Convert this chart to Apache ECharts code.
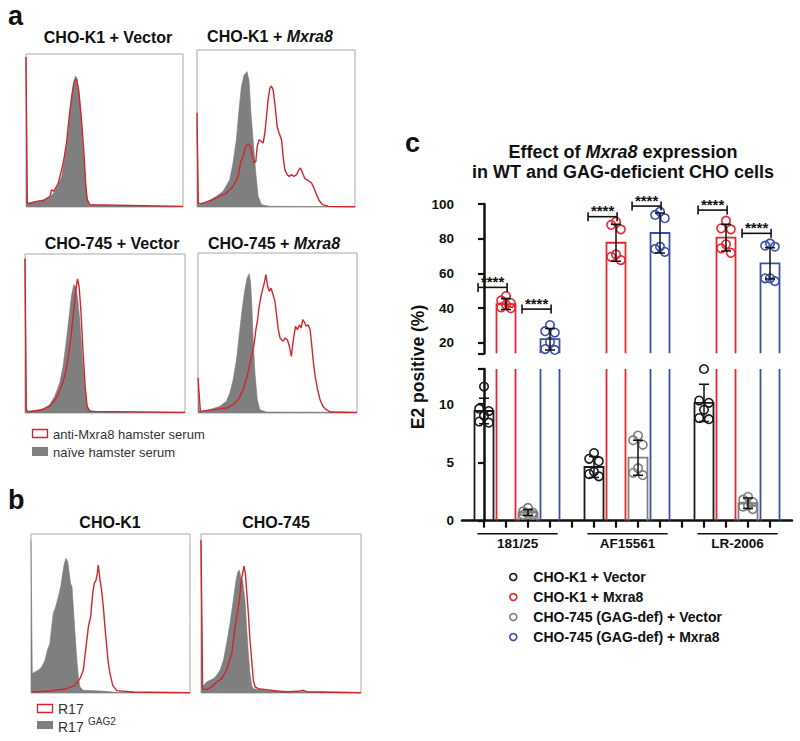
<!DOCTYPE html>
<html><head><meta charset="utf-8">
<script src="https://cdn.jsdelivr.net/npm/echarts@6/dist/echarts.min.js"></script>
<style>html,body{margin:0;padding:0;background:#fff}#chart{width:800px;height:741px}</style>
</head><body><div id="chart"></div>
<script>
// ---------- Panel a / b : flow histograms  [fluorescence (% of axis), count (% of axis height)] ----------
const aK1VectorNaive = [[0,97],[0.8,3],[1.5,2.6],[6.8,3.7],[11.0,4.8],[15.3,6.5],[18.4,10.2],[20.6,14.6],[22.7,20],[24.8,33],[26.9,48],[28.4,65.7],[30.1,78.7],[31.4,85.7],[32.6,84],[33.9,74],[35.2,57],[36.4,37],[37.7,18],[39.0,4.8],[40.7,1.5],[47,0.9],[100,0.4]];
const aK1VectorImmune = [[0,98],[0.8,3],[1.5,2.2],[6.8,3.7],[11.0,4.1],[15.3,7.0],[16.3,11.3],[17.8,10.2],[20.6,15.7],[23.7,28.7],[25.8,41.7],[28.0,63.5],[29.7,76.5],[30.9,83],[32.2,83],[33.5,76.5],[35.2,59.1],[36.9,35.2],[38.1,13.5],[39.0,4.8],[40.7,1.5],[100,0.4]];
const aK1Mxra8Naive = [[0,50],[0.8,2],[1.7,1.5],[5.9,3],[12.3,6.8],[16.5,10],[20.7,17.4],[22.8,28],[24.9,42.8],[26.6,61.9],[28.1,76.7],[29.8,84.1],[31.7,86.2],[33.0,79.9],[34.0,61.9],[35.5,42.8],[37.2,21.6],[38.7,6.8],[40.8,1.5],[46.1,0.4],[100,0.2]];
const aK1Mxra8Immune = [[0,60],[0.8,2.5],[2.7,2.1],[10.1,4.7],[18.6,8.9],[22.8,13.1],[26.0,19.5],[27.5,28],[29.2,32.2],[30.9,38.6],[32.3,40.3],[33.8,38.6],[35.1,32.2],[36.2,28],[37.2,29],[38.1,38.6],[39.3,42.8],[40.8,41.7],[41.9,40.7],[42.9,47],[44.0,57.6],[45.0,68.2],[46.1,75.6],[47.1,77.1],[48.2,74.6],[49.5,64],[50.7,51.3],[52.0,47],[53.5,42.8],[54.5,32.2],[55.6,23.7],[57.1,20.6],[58.4,19.5],[59.8,20.6],[61.3,19.5],[63.0,20.6],[64.5,23.7],[65.5,24.8],[66.8,21.6],[68.3,18],[70.4,16.9],[72.5,15.3],[74.0,12.1],[75.7,7.8],[77.4,4],[79.5,1.5],[83.1,0.4],[100,0.2]];
const a745VectorNaive = [[0,97],[0.8,2],[1.9,1.0],[7.1,1.7],[11.3,2.5],[15.4,5.2],[18.6,10.5],[21.7,18.9],[23.8,29.4],[25.9,46.1],[27.6,60.8],[29.0,73.4],[30.5,80.7],[31.7,79.7],[33.0,71.3],[34.2,58.7],[35.9,33.5],[37.6,14.7],[38.8,4.2],[40.5,1.5],[48.9,0.6],[100,0.4]];
const a745VectorImmune = [[0,97],[0.8,2],[1.9,0.8],[9.2,1.7],[15.4,4.2],[19.6,9.4],[22.8,16.8],[24.8,23.1],[26.9,33.5],[29.0,50.3],[30.5,65],[31.7,76.5],[32.8,84.3],[33.8,79.7],[34.9,65],[36.3,37.7],[37.6,16.8],[38.8,4.2],[40.5,1.0],[100,0.4]];
const a745Mxra8Naive = [[0,15],[0.8,1.5],[2.1,1.0],[7.4,2.1],[13.7,4.2],[17.9,7.3],[20.0,12.5],[22.1,20.8],[24.2,33.3],[26.3,52.1],[28.0,66.7],[29.5,77.1],[30.9,84.4],[32.2,87.1],[33.1,81.3],[33.9,66.7],[34.7,45.8],[35.8,25],[37.3,8.3],[38.9,2.1],[43.2,0.6],[100,0.4]];
const a745Mxra8Immune = [[0,22],[1.5,1.0],[9.5,2.1],[17.9,3.1],[22.1,5.2],[25.3,8.3],[28.4,14.6],[30.9,22.9],[33.1,33.3],[34.3,38.5],[35.4,43.8],[36.4,52.1],[37.5,58.3],[38.5,66.7],[39.6,72.9],[40.6,77.1],[41.7,81.3],[42.7,86.5],[43.8,79.2],[44.8,76],[45.9,78.1],[46.9,75],[48.4,69.8],[49.5,60.4],[50.5,52.1],[51.6,46.9],[52.6,45.8],[53.7,44.8],[54.7,46.9],[56.2,45.8],[57.5,41.7],[58.7,35.4],[60.0,45.8],[61.3,54.2],[62.5,52.1],[63.8,55.2],[64.8,53.1],[65.9,58.3],[67.2,56.3],[68.0,54.2],[69.3,55.2],[70.5,52.1],[71.6,41.7],[72.6,31.3],[73.7,22.9],[75.2,14.6],[76.8,8.3],[78.5,4.2],[80.6,2.1],[83.2,0.6],[100,0.4]];
const bK1Gag2 = [[0,96],[0.8,12.2],[2.5,13.2],[4.6,14.3],[6.7,16.4],[8.8,20.6],[10.3,26.9],[11.9,31.1],[13.0,41.6],[14.0,50],[15.5,54.2],[17.2,60.5],[18.7,66.8],[19.9,75.2],[21.0,81.5],[22.0,84.7],[23.1,82.6],[24.1,75.2],[24.9,68.9],[25.8,66.8],[26.6,54.2],[27.7,37.4],[28.7,22.7],[29.8,10.1],[30.8,3.8],[32.9,1.7],[43.4,1.3],[53.9,0.4],[100,0.2]];
const bK1R17 = [[0.8,0.6],[11.9,1.3],[22.4,2.7],[27.7,4.8],[30.8,9.0],[32.9,14.3],[34.6,29],[36.1,41.6],[37.5,47.9],[38.8,62.6],[39.8,68.9],[40.9,71],[41.7,75.2],[42.3,80.5],[43.4,71],[44.4,64.7],[45.5,54.2],[46.5,41.6],[47.6,29.4],[48.6,18.9],[49.7,12.2],[51.4,4.8],[53.9,1.5],[64.4,0.6],[100,0.2]];
const b745Gag2 = [[0,96],[0.8,4],[1.0,3.8],[3.5,6.9],[5.6,8.0],[7.7,9.0],[9.8,11.1],[11.9,14.3],[14.0,20.6],[16.0,31.1],[18.1,43.7],[20.2,58.4],[21.9,71],[23.1,76.3],[24.0,77.3],[24.8,73.1],[26.0,71],[27.5,58.4],[28.5,41.6],[29.6,24.8],[30.6,12.2],[31.7,4.8],[32.7,2.7],[36.9,2.1],[45.2,1.3],[61.9,0.8],[100,0.2]];
const b745R17 = [[0,96],[1.0,2.7],[3.5,2.1],[6.7,3.8],[9.8,6.9],[12.9,9.0],[16.0,14.3],[19.2,24.8],[21.3,41.6],[22.7,50],[24.0,58.4],[25.2,71],[26.0,75.2],[26.9,79.8],[27.7,75.2],[28.5,64.7],[29.6,50],[30.6,33.2],[31.7,20.6],[32.7,8.0],[33.8,3.8],[35.8,2.7],[41.0,2.1],[47.3,1.3],[53.5,0.6],[61.9,1.3],[63.9,1.7],[66.0,0.8],[100,0.2]];

// ---------- Panel c : E2 positive (%) ----------
const groups = ['181/25', 'AF15561', 'LR-2006'];
const conditions = ['CHO-K1 + Vector', 'CHO-K1 + Mxra8', 'CHO-745 (GAG-def) + Vector', 'CHO-745 (GAG-def) + Mxra8'];
const k1VectorDots   = [[11.5, 9.6, 9.4, 9.0, 8.5, 8.4], [5.8, 5.3, 5.1, 4.2, 4.0, 3.8], [13.0, 10.3, 10.1, 9.5, 8.8, 8.7]];
const k1Mxra8Dots    = [[47.0, 44.5, 43.0, 42.0, 40.5, 40.0], [89.8, 88.0, 85.4, 71.0, 69.6, 67.7], [90.4, 86.0, 85.4, 76.8, 74.5, 71.9]];
const c745VectorDots = [[1.1, 0.8, 0.7, 0.6, 0.5, 0.5], [7.3, 6.9, 6.5, 4.5, 4.1, 3.9], [2.05, 1.8, 1.6, 1.3, 1.2, 1.0]];
const c745Mxra8Dots  = [[30.3, 26.8, 26.0, 20.6, 16.5, 16.0], [95.6, 93.7, 91.8, 75.4, 74.1, 72.5], [77.3, 76.0, 75.4, 57.2, 57.2, 55.6]];
const k1VectorMean = [9.4, 4.6, 10.1],   k1VectorSD = [1.1, 0.9, 1.6];
const k1Mxra8Mean = [42.4, 77.7, 80.6],  k1Mxra8SD = [3.2, 10.6, 7.7];
const c745VectorMean = [0.7, 5.4, 1.5],  c745VectorSD = [0.25, 1.5, 0.45];
const c745Mxra8Mean = [22.2, 83.3, 65.8], c745Mxra8SD = [6.2, 11.5, 9.0];
const bracketHeights = [[52.0, 39.5], [92.7, 98.8], [96.5, 83.1]];   // y of "****" brackets (K1 pair, 745 pair)
const significance = '****';
const upperTicks = [20, 40, 60, 80, 100];
const lowerTicks = [0, 5, 10];

// ---------- build ----------
const FONT = "'Liberation Sans', Arial, Helvetica, sans-serif";
const RED = '#d2252d';
const condColors = ['#1a1a1a', '#e8262d', '#808080', '#3c50a8'];
const dotJitter = [0, -0.22, 0.22, 0, -0.22, 0.22];
const allDots = [k1VectorDots, k1Mxra8Dots, c745VectorDots, c745Mxra8Dots];
const allMeans = [k1VectorMean, k1Mxra8Mean, c745VectorMean, c745Mxra8Mean];
const allSDs = [k1VectorSD, k1Mxra8SD, c745VectorSD, c745Mxra8SD];
const slot = (g, c) => g * 5 + c;

const histBoxes = [
  {left: 26, top: 54, width: 157, height: 153, naive: aK1VectorNaive, immune: aK1VectorImmune},
  {left: 197, top: 50, width: 158, height: 157, naive: aK1Mxra8Naive, immune: aK1Mxra8Immune},
  {left: 25, top: 254, width: 160, height: 159, naive: a745VectorNaive, immune: a745VectorImmune},
  {left: 198, top: 253, width: 159, height: 160, naive: a745Mxra8Naive, immune: a745Mxra8Immune},
  {left: 31, top: 534, width: 159, height: 159, naive: bK1Gag2, immune: bK1R17},
  {left: 201, top: 534, width: 160, height: 159, naive: b745Gag2, immune: b745R17}
];

const grid = [], xAxis = [], yAxis = [], series = [];
histBoxes.forEach((b, i) => {
  grid.push({left: b.left, top: b.top, width: b.width, height: b.height, show: true, borderColor: '#a8a8a8', borderWidth: 1, backgroundColor: 'rgba(0,0,0,0)'});
  xAxis.push({type: 'value', gridIndex: i, min: 0, max: 100, show: false});
  yAxis.push({type: 'value', gridIndex: i, min: 0, max: 100, show: false});
  series.push({type: 'line', xAxisIndex: i, yAxisIndex: i, data: b.naive, symbol: 'none', silent: true, z: 2,
    lineStyle: {width: 0.6, color: '#7b7b7b'}, areaStyle: {color: '#7f7f7f', opacity: 1}});
  series.push({type: 'line', xAxisIndex: i, yAxisIndex: i, data: b.immune, symbol: 'none', silent: true, z: 3,
    lineStyle: {width: 1.4, color: RED}});
});

// panel c grids: 6 = upper (14-100), 7 = lower (0-13)
const UP = 6, LO = 7;
const upperRange = [14, 100], lowerRange = [0, 13];
grid.push({left: 462, top: 204, width: 330, height: 149.4});
grid.push({left: 462, top: 369, width: 330, height: 151.7});
const slotTicks = Array.from({length: 14}, (_, i) => i);
xAxis.push({type: 'value', gridIndex: UP, min: -1, max: 14, show: false});
xAxis.push({type: 'value', gridIndex: LO, min: -1, max: 14,
  axisLine: {lineStyle: {color: '#111', width: 2.5}},
  axisTick: {show: true, customValues: slotTicks, length: 7, lineStyle: {color: '#111', width: 2.2}},
  axisLabel: {show: false}, splitLine: {show: false}});
const yAxisStyle = (gi, range, ticks) => ({type: 'value', gridIndex: gi, min: range[0], max: range[1],
  axisLine: {show: true, lineStyle: {color: '#111', width: 2.5}},
  axisTick: {show: true, customValues: (gi === UP ? [range[0]] : [range[1]]).concat(ticks), length: 6, lineStyle: {color: '#111', width: 2.2}},
  axisLabel: {customValues: ticks, color: '#111', fontSize: 13.5, fontWeight: 'bold', fontFamily: FONT, margin: 8},
  splitLine: {show: false}});
yAxis.push(yAxisStyle(UP, upperRange, upperTicks));
yAxis.push(yAxisStyle(LO, lowerRange, lowerTicks));

const barData = [], errData = [];
conditions.forEach((n, c) => groups.forEach((g, gi) => {
  barData.push([slot(gi, c), allMeans[c][gi], c]);
  errData.push([slot(gi, c), allMeans[c][gi], allSDs[c][gi]]);
}));

function barRender(range) {
  return function (params, api) {
    const x = api.value(0), v = api.value(1), c = api.value(2);
    if (v <= range[0]) return null;
    const top = Math.min(v, range[1]);
    const pb = api.coord([x, range[0]]), pt = api.coord([x, top]);
    const hw = 9.5;
    const style = {stroke: condColors[c], lineWidth: 1.8, fill: null};
    if (v > range[1]) {
      return {type: 'group', children: [
        {type: 'line', shape: {x1: pb[0] - hw, y1: pb[1], x2: pb[0] - hw, y2: pt[1]}, style},
        {type: 'line', shape: {x1: pb[0] + hw, y1: pb[1], x2: pb[0] + hw, y2: pt[1]}, style}]};
    }
    return {type: 'polyline', shape: {points: [[pb[0] - hw, pb[1]], [pb[0] - hw, pt[1]], [pb[0] + hw, pt[1]], [pb[0] + hw, pb[1]]]}, style};
  };
}
function errRender(params, api) {
  const x = api.value(0), m = api.value(1), s = api.value(2);
  const p1 = api.coord([x, m + s]), p2 = api.coord([x, m - s]);
  const style = {stroke: '#111', lineWidth: 1.5};
  return {type: 'group', children: [
    {type: 'line', shape: {x1: p1[0], y1: p1[1], x2: p2[0], y2: p2[1]}, style},
    {type: 'line', shape: {x1: p1[0] - 5, y1: p1[1], x2: p1[0] + 5, y2: p1[1]}, style},
    {type: 'line', shape: {x1: p2[0] - 5, y1: p2[1], x2: p2[0] + 5, y2: p2[1]}, style}]};
}
[[UP, upperRange], [LO, lowerRange]].forEach(([gi, range]) => {
  series.push({type: 'custom', name: 'bars', xAxisIndex: gi, yAxisIndex: gi, clip: true, silent: true, z: 3,
    renderItem: barRender(range), data: barData, encode: {x: 0, y: 1}});
  conditions.forEach((n, c) => {
    series.push({type: 'scatter', name: n, xAxisIndex: gi, yAxisIndex: gi, clip: true, silent: true, z: 4,
      symbol: 'circle', symbolSize: 8.5,
      itemStyle: {color: 'rgba(255,255,255,0)', borderColor: condColors[c], borderWidth: 1.6, opacity: 1},
      data: groups.flatMap((g, gi2) => allDots[c][gi2].map((v, k) => [slot(gi2, c) + dotJitter[k], v]))});
  });
  series.push({type: 'custom', name: 'sd', xAxisIndex: gi, yAxisIndex: gi, clip: true, silent: true, z: 5,
    renderItem: errRender, data: errData, encode: {x: 0, y: 1}});
});

// significance brackets
const bracketData = [];
groups.forEach((g, gi) => {
  bracketData.push([slot(gi, 0), slot(gi, 1), bracketHeights[gi][0]]);
  bracketData.push([slot(gi, 2), slot(gi, 3), bracketHeights[gi][1]]);
});
series.push({type: 'custom', name: 'brackets', xAxisIndex: UP, yAxisIndex: UP, clip: false, silent: true, z: 6,
  encode: {x: [0, 1], y: 2}, data: bracketData,
  renderItem: function (params, api) {
    const a = api.coord([api.value(0) - 0.27, api.value(2)]), b = api.coord([api.value(1) + 0.05, api.value(2)]);
    const style = {stroke: '#111', lineWidth: 1.6};
    return {type: 'group', children: [
      {type: 'line', shape: {x1: a[0], y1: a[1], x2: b[0], y2: b[1]}, style},
      {type: 'line', shape: {x1: a[0], y1: a[1] - 4.5, x2: a[0], y2: a[1] + 4.5}, style},
      {type: 'line', shape: {x1: b[0], y1: b[1] - 4.5, x2: b[0], y2: b[1] + 4.5}, style},
      {type: 'text', style: {text: significance, x: (a[0] + b[0]) / 2, y: a[1] - 6, align: 'center', verticalAlign: 'middle',
        fontSize: 15, fontWeight: 'bold', fontFamily: FONT, fill: '#111'}}]};
  }});

// group labels under the x axis
series.push({type: 'custom', name: 'groupLabels', xAxisIndex: LO, yAxisIndex: LO, clip: false, silent: true,
  encode: {x: 0, y: 1}, data: groups.map((g, gi) => [slot(gi, 0), 0, gi]),
  renderItem: function (params, api) {
    const gi = api.value(2), s = api.value(0);
    const a = api.coord([s - 0.3, 0]), b = api.coord([s + 3.35, 0]);
    return {type: 'group', children: [
      {type: 'line', shape: {x1: a[0], y1: a[1] + 13, x2: b[0], y2: b[1] + 13}, style: {stroke: '#111', lineWidth: 1.5}},
      {type: 'text', style: {text: groups[gi], x: (a[0] + b[0]) / 2, y: a[1] + 23, align: 'center', verticalAlign: 'middle',
        fontSize: 13.5, fontWeight: 'bold', fontFamily: FONT, fill: '#111'}}]};
  }});

function txt(x, y, text, size, opts) {
  return Object.assign({type: 'text', x: x, y: y, silent: true,
    style: Object.assign({text: text, fontSize: size, fontFamily: FONT, fill: '#111', align: 'center', verticalAlign: 'middle', fontWeight: 'bold'}, opts || {})});
}
function richText(x, y, parts, size) {
  return {type: 'text', x: x, y: y, silent: true, style: {
    text: parts.map(p => '{' + (p[1] ? 'i' : 'b') + '|' + p[0] + '}').join(''), align: 'center', verticalAlign: 'middle',
    rich: {b: {fontSize: size, fontWeight: 'bold', fontFamily: FONT, fill: '#111'},
           i: {fontSize: size, fontWeight: 'bold', fontStyle: 'italic', fontFamily: FONT, fill: '#111'}}}};
}

const yName = txt(418, 367, 'E2 positive (%)', 17.5);
yName.rotation = Math.PI / 2;
const graphic = [
  txt(8, 16, 'a', 27, {align: 'left'}),
  txt(108, 37, 'CHO-K1 + Vector', 16),
  richText(270, 36, [['CHO-K1 + ', false], ['Mxra8', true]], 16),
  txt(112, 243, 'CHO-745 + Vector', 16),
  richText(274, 243, [['CHO-745 + ', false], ['Mxra8', true]], 16),
  {type: 'rect', shape: {x: 32.5, y: 429.5, width: 15, height: 8}, style: {fill: 'none', stroke: RED, lineWidth: 1.3}, silent: true},
  txt(53, 434, 'anti-Mxra8 hamster serum', 13, {align: 'left', fontWeight: 'normal', fill: '#333'}),
  {type: 'rect', shape: {x: 32, y: 447, width: 16, height: 9}, style: {fill: '#808080'}, silent: true},
  txt(53, 452, 'naïve hamster serum', 13, {align: 'left', fontWeight: 'normal', fill: '#333'}),
  txt(8, 500, 'b', 27, {align: 'left'}),
  txt(110, 522, 'CHO-K1', 16),
  txt(276, 522, 'CHO-745', 16),
  {type: 'rect', shape: {x: 37.5, y: 704.5, width: 15, height: 8}, style: {fill: 'none', stroke: RED, lineWidth: 1.3}, silent: true},
  txt(58, 709, 'R17', 14, {align: 'left', fontWeight: 'normal', fill: '#333'}),
  {type: 'rect', shape: {x: 37, y: 721, width: 16, height: 8}, style: {fill: '#808080'}, silent: true},
  txt(58, 727, 'R17', 14, {align: 'left', fontWeight: 'normal', fill: '#333'}),
  txt(88, 721, 'GAG2', 10, {align: 'left', fontWeight: 'normal', fill: '#333'}),
  txt(405, 143, 'c', 27, {align: 'left'}),
  richText(623, 152, [['Effect of ', false], ['Mxra8', true], [' expression', false]], 18),
  txt(623, 172, 'in WT and GAG-deficient CHO cells', 18),
  yName
];

const option = {
  animation: false,
  backgroundColor: '#fff',
  grid, xAxis, yAxis, series, graphic,
  legend: {left: 504, top: 565, orient: 'vertical', itemWidth: 30, itemHeight: 7, itemGap: 6, selectedMode: false,
    textStyle: {fontSize: 14, fontWeight: 'bold', fontFamily: FONT, color: '#111', lineHeight: 14},
    data: conditions.map((n, c) => ({name: n, icon: 'circle', itemStyle: {color: '#fff', borderColor: condColors[c], borderWidth: 1.6}}))}
};
const chart = echarts.init(document.getElementById('chart'), null, {renderer: 'svg'});
chart.setOption(option);
</script></body></html>
